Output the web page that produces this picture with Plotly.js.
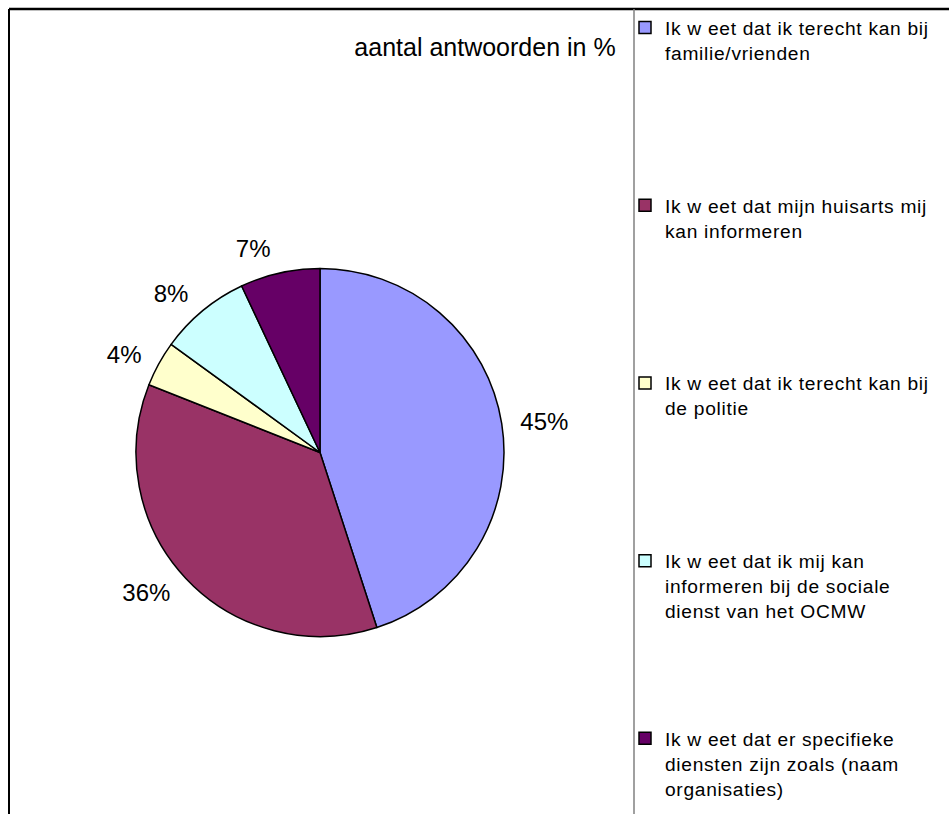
<!DOCTYPE html>
<html>
<head>
<meta charset="utf-8">
<script src="https://cdn.plot.ly/plotly-3.0.1.min.js"></script>
<style>html,body{margin:0;padding:0;background:#fff;}#chart{width:949px;height:814px;}</style>
</head>
<body>
<div id="chart"></div>
<script>
// ---- data ----
const categories = [
  "Ik w eet dat ik terecht kan bij<br>familie/vrienden",
  "Ik w eet dat mijn huisarts mij<br>kan informeren",
  "Ik w eet dat ik terecht kan bij<br>de politie",
  "Ik w eet dat ik mij kan<br>informeren bij de sociale<br>dienst van het OCMW",
  "Ik w eet dat er specifieke<br>diensten zijn zoals (naam<br>organisaties)"
];
const values = [45, 36, 4, 8, 7];
const colors = ["#9999FF", "#993366", "#FFFFCC", "#CCFFFF", "#660066"];
const chartTitle = "aantal antwoorden in %";

// legend entries: slight letter spacing, padded (except last) to equal line count
const LINES = 7;
const legendLabels = categories.map((c, i) => {
  const lines = c.split("<br>").map(l => '<span style="letter-spacing:0.7px">' + l + '</span>');
  if (i !== categories.length - 1) {
    while (lines.length < LINES) lines.push(" ");
  }
  return lines.join("<br>");
});

const W = 949, H = 814;
const cx = 320, cy = 452.5, r = 184, rText = 196;
const FONT = "Liberation Sans, Arial, sans-serif";

const pieSlices = {
  type: "pie",
  labels: legendLabels,
  values: values,
  sort: false,
  direction: "clockwise",
  rotation: 0,
  marker: { colors: colors, line: { color: "#000000", width: 1.5 } },
  textinfo: "none",
  hoverinfo: "none",
  domain: {
    x: [(cx - r) / W, (cx + r) / W],
    y: [1 - (cy + r) / H, 1 - (cy - r) / H]
  }
};

// same data, transparent, slightly larger: carries the outside percent labels
const pieLabels = {
  type: "pie",
  labels: legendLabels,
  values: values,
  sort: false,
  direction: "clockwise",
  rotation: 0,
  showlegend: false,
  marker: { colors: values.map(() => "rgba(0,0,0,0)"), line: { width: 0 } },
  textinfo: "percent",
  textposition: "outside",
  outsidetextfont: { family: FONT, size: 24, color: "#000000" },
  hoverinfo: "none",
  domain: {
    x: [(cx - rText) / W, (cx + rText) / W],
    y: [1 - (cy + rText) / H, 1 - (cy - rText) / H]
  }
};

const layout = {
  width: W,
  height: H,
  margin: { l: 0, r: 0, t: 0, b: 0, autoexpand: false },
  paper_bgcolor: "#ffffff",
  font: { family: FONT, color: "#000000" },
  title: {
    text: chartTitle,
    font: { size: 25, family: FONT, color: "#000000" },
    xref: "container", yref: "container",
    x: 485 / W, y: 1 - 47 / H,
    xanchor: "center", yanchor: "middle"
  },
  showlegend: true,
  legend: {
    xref: "paper", yref: "paper",
    x: 625 / W, y: 1 - 8.5 / H,
    xanchor: "left", yanchor: "top",
    valign: "top",
    maxheight: 814,
    bgcolor: "rgba(0,0,0,0)",
    borderwidth: 0,
    font: { size: 19.2, family: FONT, color: "#000000" }
  },
  shapes: [
    { type: "line", xref: "paper", yref: "paper", x0: 9 / W, x1: 1.01, y0: 1 - 9 / H, y1: 1 - 9 / H, line: { color: "#000000", width: 2.5 } },
    { type: "line", xref: "paper", yref: "paper", x0: 9 / W, x1: 9 / W, y0: 1 - 9 / H, y1: -0.01, line: { color: "#000000", width: 2 } },
    { type: "line", xref: "paper", yref: "paper", x0: 634 / W, x1: 634 / W, y0: 1 - 9 / H, y1: -0.01, line: { color: "#808080", width: 1.5 } }
  ]
};

Plotly.newPlot("chart", [pieSlices, pieLabels], layout, { staticPlot: true, displayModeBar: false });
</script>
</body>
</html>
